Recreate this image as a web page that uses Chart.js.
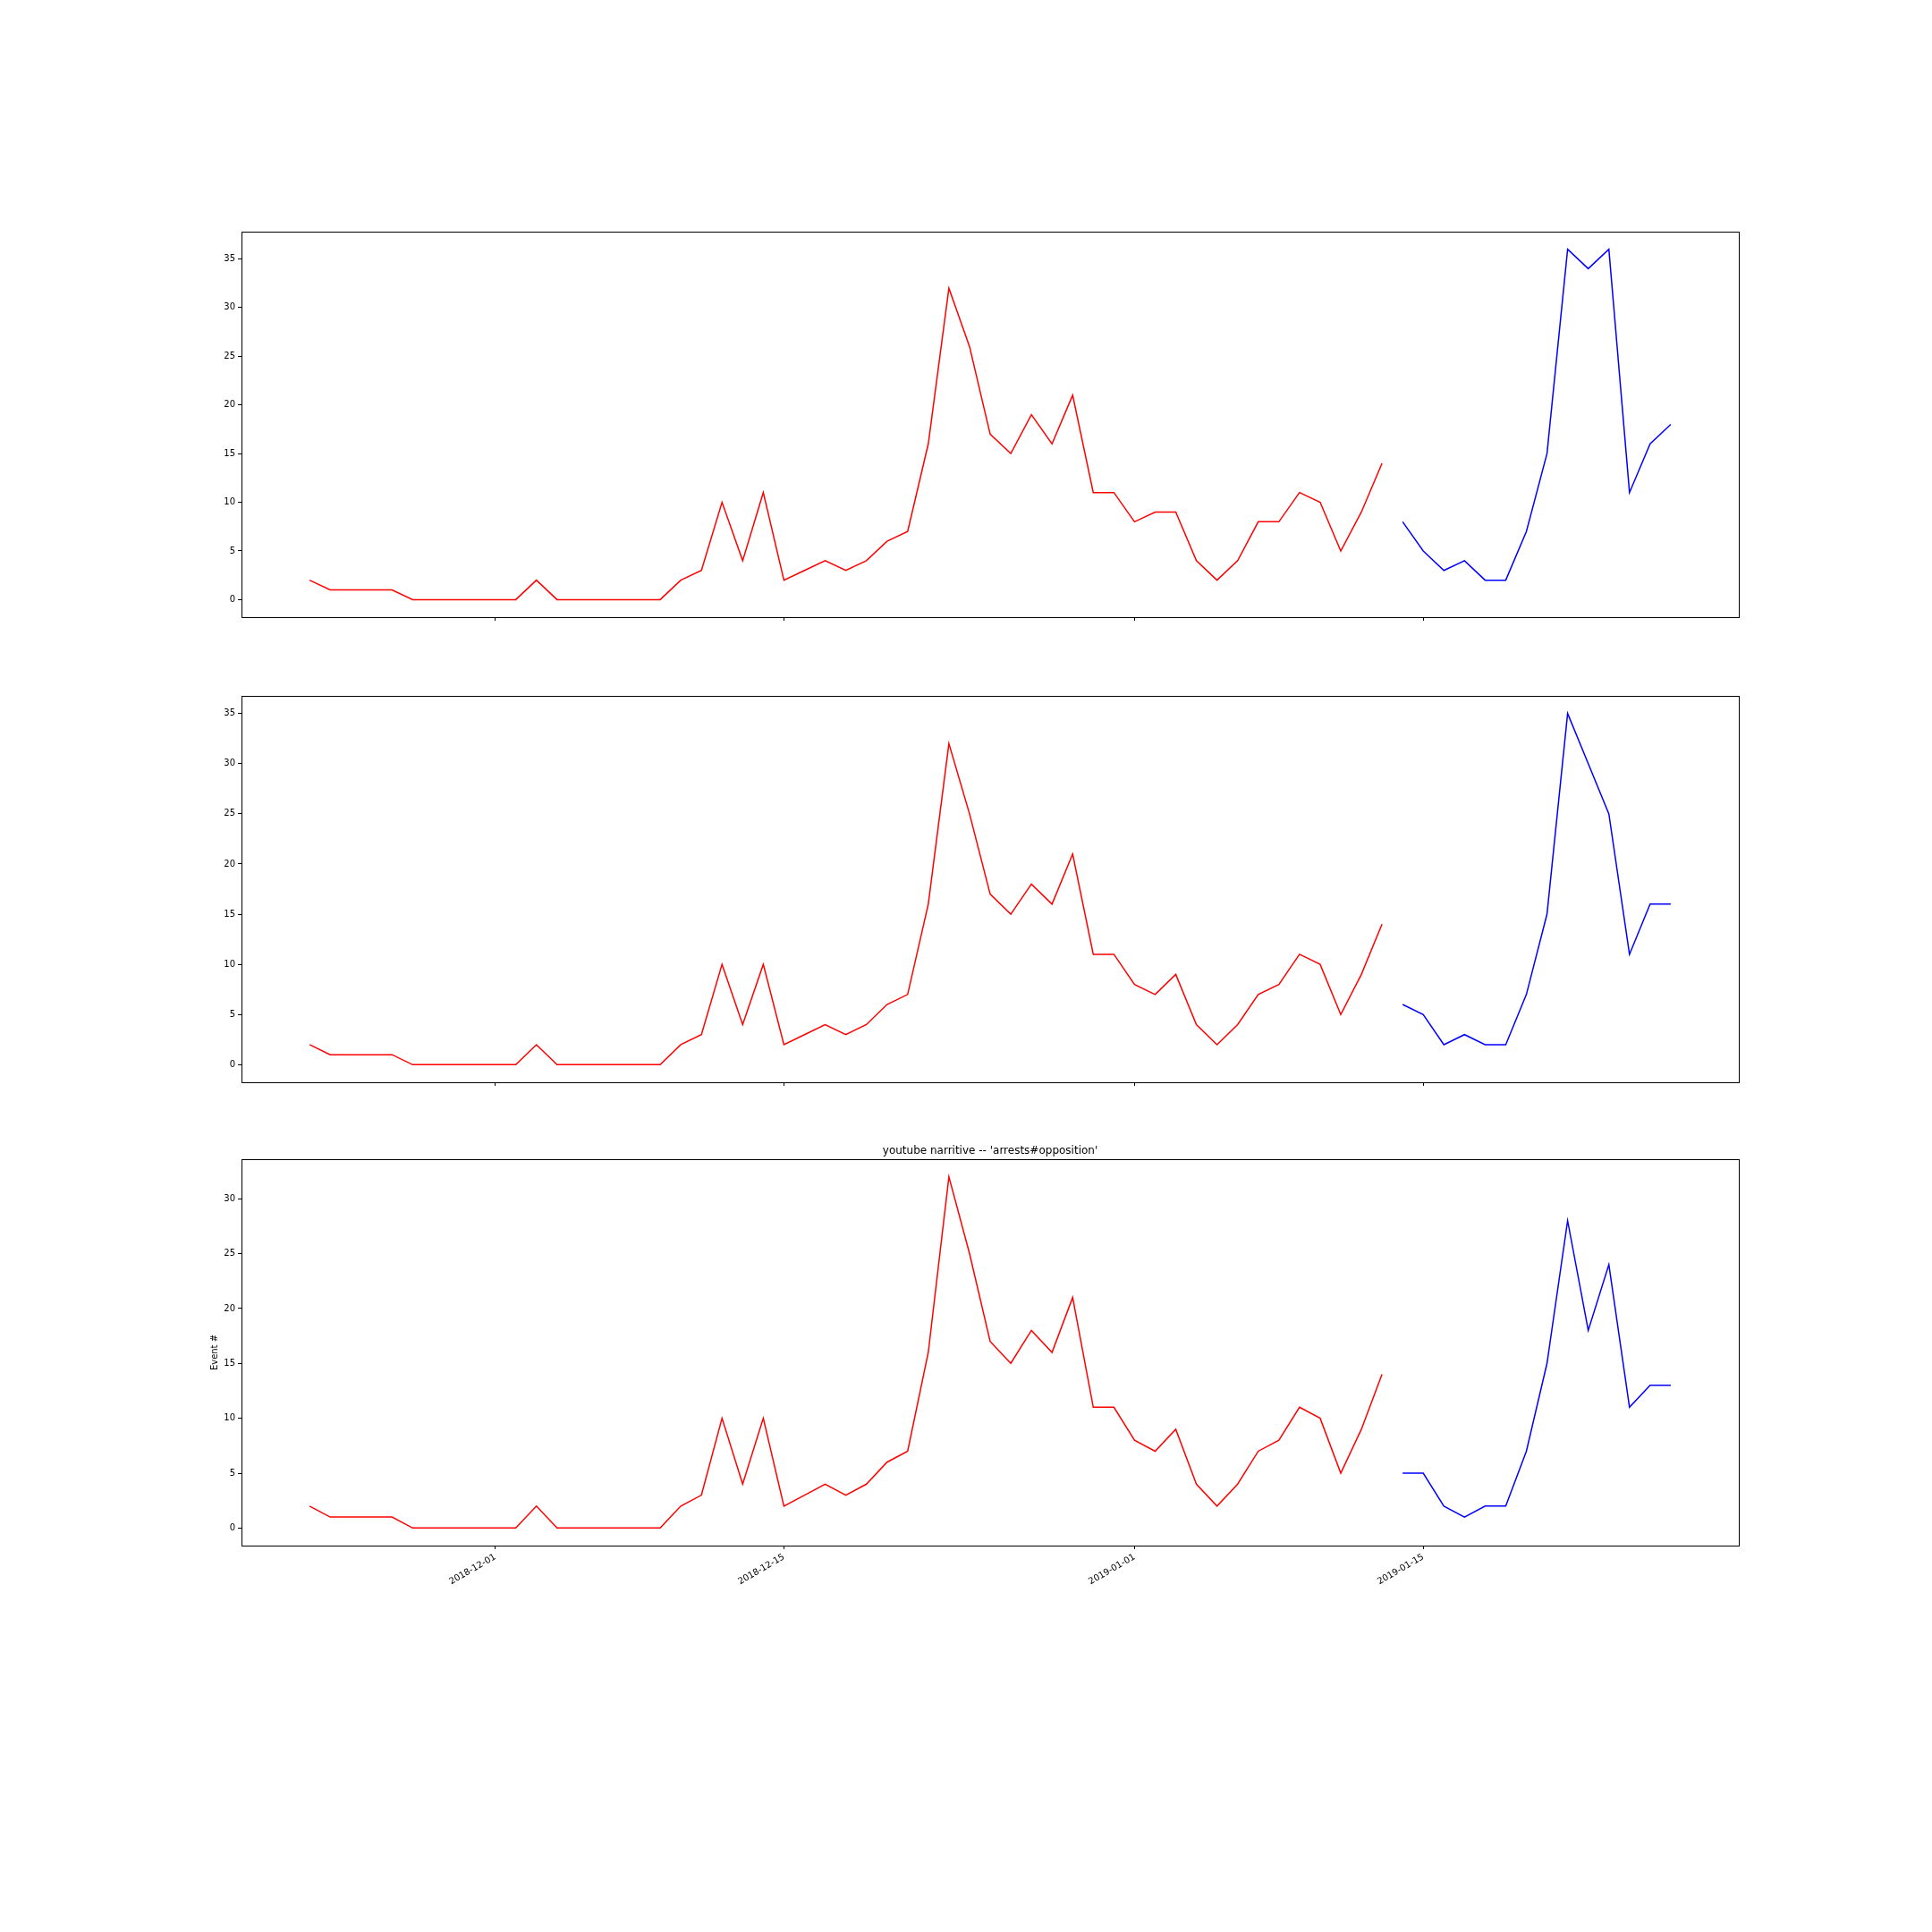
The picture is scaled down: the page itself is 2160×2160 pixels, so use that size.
<!DOCTYPE html>
<html>
<head>
<meta charset="utf-8">
<script src="https://cdn.jsdelivr.net/npm/chart.js@4.4.1/dist/chart.umd.min.js"></script>
<style>
  body { margin: 0; background: #fff; }
  #wrap { position: relative; width: 2160px; height: 2160px; }
  canvas { position: absolute; left: 0; top: 0; }
</style>
</head>
<body>
<div id="wrap">
  <canvas id="chart_1" width="2160" height="2160"></canvas>
  <canvas id="chart_2" width="2160" height="2160"></canvas>
  <canvas id="chart_3" width="2160" height="2160"></canvas>
</div>
<script>
// days on the x axis
const days = [
  '2018-11-22','2018-11-23','2018-11-24','2018-11-25','2018-11-26','2018-11-27','2018-11-28','2018-11-29','2018-11-30',
  '2018-12-01','2018-12-02','2018-12-03','2018-12-04','2018-12-05','2018-12-06','2018-12-07','2018-12-08','2018-12-09',
  '2018-12-10','2018-12-11','2018-12-12','2018-12-13','2018-12-14','2018-12-15','2018-12-16','2018-12-17','2018-12-18',
  '2018-12-19','2018-12-20','2018-12-21','2018-12-22','2018-12-23','2018-12-24','2018-12-25','2018-12-26','2018-12-27',
  '2018-12-28','2018-12-29','2018-12-30','2018-12-31',
  '2019-01-01','2019-01-02','2019-01-03','2019-01-04','2019-01-05','2019-01-06','2019-01-07','2019-01-08','2019-01-09',
  '2019-01-10','2019-01-11','2019-01-12','2019-01-13',
  '2019-01-14','2019-01-15','2019-01-16','2019-01-17','2019-01-18','2019-01-19','2019-01-20','2019-01-21','2019-01-22',
  '2019-01-23','2019-01-24','2019-01-25','2019-01-26','2019-01-27'
];
const redDays = days.slice(0, 53);
const blueDays = days.slice(53);

// panel values
const red_1 = [2,1,1,1,1,0,0,0,0,0, 0,2,0,0,0,0,0,0,2,3, 10,4,11,2,3,4,3,4,6,7, 16,32,26,17,15,19,16,21,11,11, 8,9,9,4,2,4,8,8,11,10, 5,9,14];
const blue_1 = [8,5,3,4,2,2,7,15,36,34,36,11,16,18];
const red_2 = [2,1,1,1,1,0,0,0,0,0, 0,2,0,0,0,0,0,0,2,3, 10,4,10,2,3,4,3,4,6,7, 16,32,25,17,15,18,16,21,11,11, 8,7,9,4,2,4,7,8,11,10, 5,9,14];
const blue_2 = [6,5,2,3,2,2,7,15,35,30,25,11,16,16];
const red_3 = [2,1,1,1,1,0,0,0,0,0, 0,2,0,0,0,0,0,0,2,3, 10,4,10,2,3,4,3,4,6,7, 16,32,25,17,15,18,16,21,11,11, 8,7,9,4,2,4,7,8,11,10, 5,9,14];
const blue_3 = [5,5,2,1,2,2,7,15,28,18,24,11,13,13];

// tick labels
const xTickLabels = ['2018-12-01', '2018-12-15', '2019-01-01', '2019-01-15'];
const yTicks_1 = [0, 5, 10, 15, 20, 25, 30, 35];
const yTicks_2 = [0, 5, 10, 15, 20, 25, 30, 35];
const yTicks_3 = [0, 5, 10, 15, 20, 25, 30];

const titleText = "youtube narritive -- 'arrests#opposition'";
const yLabel = 'Event #';

const DAY = 86400000;
const t0 = Date.parse(days[0]);
const dayX = d => (Date.parse(d) - t0) / DAY;
const pts = (ds, vals) => ds.map((d, i) => ({ x: dayX(d), y: vals[i] }));

const xSpan = dayX(days[days.length - 1]);
const xMin = -0.05 * xSpan, xMax = xSpan * 1.05;
const xTickVals = xTickLabels.map(dayX);

Chart.defaults.font.family = '"DejaVu Sans", sans-serif';
Chart.defaults.font.size = 10;
Chart.defaults.color = '#000';

// matplotlib style box around the plot area, plus an axes title
const frame = {
  id: 'frame',
  afterDraw(chart, args, opts) {
    const a = chart.chartArea, ctx = chart.ctx;
    ctx.save();
    ctx.strokeStyle = '#000';
    ctx.lineWidth = 1;
    ctx.strokeRect(Math.round(a.left) + 0.5, Math.round(a.top) + 0.5,
      Math.round(a.right - a.left), Math.round(a.bottom - a.top));
    if (opts.title) {
      ctx.fillStyle = '#000';
      ctx.font = '12px "DejaVu Sans", sans-serif';
      ctx.textAlign = 'center';
      ctx.textBaseline = 'alphabetic';
      ctx.fillText(opts.title, (a.left + a.right) / 2, a.top - 6);
    }
    ctx.restore();
  }
};

// plot area rows (top, bottom) in page pixels
const rows = [[259, 690], [778, 1210], [1296, 1728]];

function makePanel(id, red, blue, yTicks, idx) {
  const all = red.concat(blue);
  const lo = Math.min(...all), hi = Math.max(...all);
  const pad = (hi - lo) * 0.05;
  const last = idx === 2;
  const [top, bottom] = rows[idx];

  return new Chart(document.getElementById(id), {
    type: 'line',
    data: {
      datasets: [
        { data: pts(redDays, red), borderColor: '#ff0000', borderWidth: 1.5, pointRadius: 0, tension: 0, fill: false },
        { data: pts(blueDays, blue), borderColor: '#0000ff', borderWidth: 1.5, pointRadius: 0, tension: 0, fill: false }
      ]
    },
    options: {
      responsive: false,
      animation: false,
      devicePixelRatio: 1,
      layout: { padding: { left: 230, right: 216, top: top, bottom: 2160 - bottom - 80 } },
      plugins: {
        legend: { display: false },
        tooltip: { enabled: false },
        frame: { title: last ? titleText : '' }
      },
      scales: {
        x: {
          type: 'linear',
          min: xMin,
          max: xMax,
          afterFit: s => { s.height = 80; },
          afterBuildTicks: s => { s.ticks = xTickVals.map(v => ({ value: v })); },
          border: { display: false },
          grid: { drawOnChartArea: false, drawTicks: true, tickLength: 4, color: '#000' },
          ticks: {
            display: last,
            minRotation: 30,
            maxRotation: 30,
            padding: 3,
            autoSkip: false,
            callback: v => xTickLabels[xTickVals.indexOf(v)] || ''
          }
        },
        y: {
          min: lo - pad,
          max: hi + pad,
          afterFit: s => { s.width = 40; },
          afterBuildTicks: s => { s.ticks = yTicks.map(v => ({ value: v })); },
          border: { display: false },
          grid: { drawOnChartArea: false, drawTicks: true, tickLength: 4, color: '#000' },
          ticks: { padding: 3, callback: v => String(v) },
          title: { display: last, text: yLabel, font: { size: 10 }, padding: { top: 4, bottom: 4 } }
        }
      }
    },
    plugins: [frame]
  });
}

var chart_1 = makePanel('chart_1', red_1, blue_1, yTicks_1, 0);
var chart_2 = makePanel('chart_2', red_2, blue_2, yTicks_2, 1);
var chart_3 = makePanel('chart_3', red_3, blue_3, yTicks_3, 2);
</script>
</body>
</html>
